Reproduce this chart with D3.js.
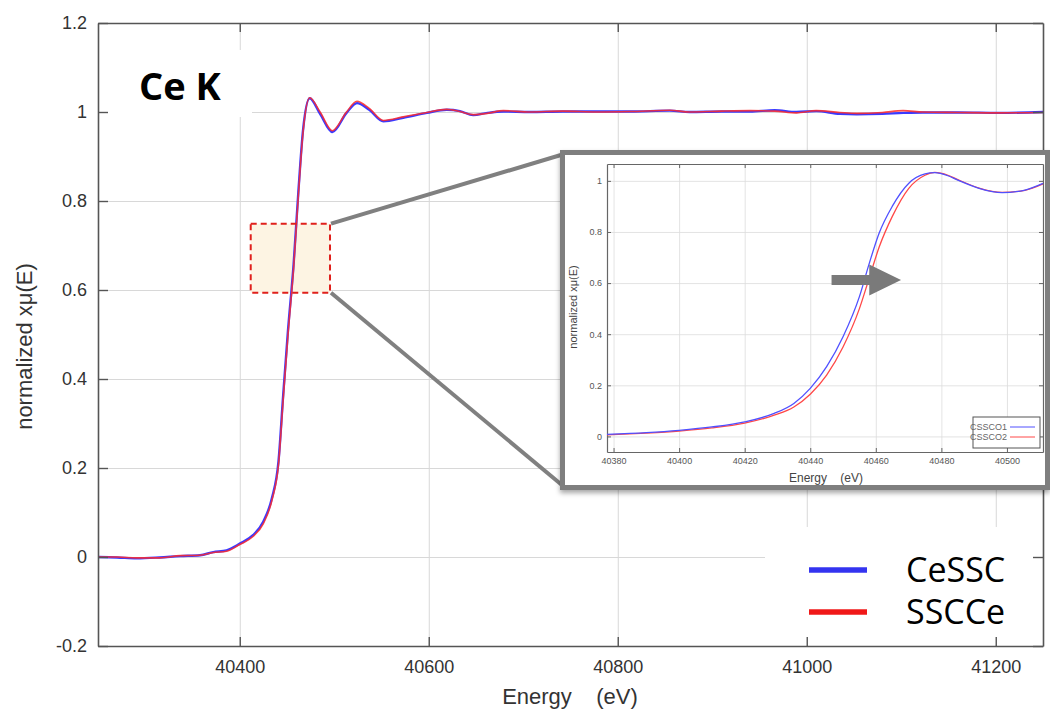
<!DOCTYPE html>
<html>
<head>
<meta charset="utf-8">
<script src="https://cdn.jsdelivr.net/npm/d3@7"></script>
<style>
  html, body { margin: 0; padding: 0; background: #fff; }
  svg { display: block; }
  text { font-family: "Liberation Sans Narrow", "Liberation Sans", Arial, sans-serif; }
</style>
</head>
<body>
<svg id="chart" width="1050" height="718"></svg>
<script>
// ---------------- DATA ----------------
const mainEnergy = [40250, 40270, 40291, 40315, 40337, 40358, 40372, 40386, 40400, 40414,
  40425, 40434, 40441, 40446, 40451, 40457, 40462, 40467, 40474, 40485,
  40498, 40513, 40524, 40537, 40552, 40573, 40598, 40619, 40633, 40647,
  40662, 40679, 40707, 40742, 40778, 40813, 40855, 40876, 40910, 40940,
  40966, 40989, 41010, 41035, 41053, 41080, 41102, 41123, 41160, 41204, 41250];
const cesscValues = [0.000, -0.001, -0.003, -0.001, 0.002, 0.004, 0.011, 0.015, 0.030, 0.049,
  0.080, 0.132, 0.215, 0.365, 0.508, 0.658, 0.820, 0.960, 1.031, 0.996,
  0.955, 0.998, 1.020, 1.005, 0.979, 0.987, 0.998, 1.005, 1.002, 0.993,
  0.998, 1.001, 1.000, 1.001, 1.001, 1.001, 1.003, 1.000, 1.001, 1.001,
  1.004, 1.000, 1.002, 0.996, 0.995, 0.996, 0.998, 0.999, 0.999, 0.998, 1.000];
const ssccesValues = [0.000, 0.000, -0.002, -0.002, 0.003, 0.004, 0.010, 0.013, 0.028, 0.046,
  0.075, 0.127, 0.208, 0.355, 0.498, 0.650, 0.812, 0.955, 1.032, 1.000,
  0.958, 1.000, 1.024, 1.008, 0.981, 0.989, 0.999, 1.006, 1.001, 0.994,
  0.997, 1.003, 1.000, 1.002, 1.000, 1.001, 1.004, 1.000, 1.002, 1.003,
  1.002, 0.998, 1.003, 0.999, 0.997, 0.999, 1.003, 1.000, 0.999, 0.998, 0.999];

const mainXTicks = [40400, 40600, 40800, 41000, 41200];
const mainYTicks = [-0.2, 0, 0.2, 0.4, 0.6, 0.8, 1.0, 1.2];
const legendLabels = ["CeSSC", "SSCCe"];
const legendColors = ["#3434f0", "#f01818"];

// zoomed region (data units of main chart)
const zoomBoxX = [40411.6, 40495.5];
const zoomBoxY = [0.594, 0.749];

// inset data
const insetEnergy = [40378, 40390, 40400, 40410, 40420, 40429, 40435, 40440, 40445, 40450,
  40455, 40458, 40461, 40465, 40470, 40475, 40478, 40482, 40485, 40491.5,
  40498.5, 40505.5, 40511];
const cssco1Values = [0.008, 0.015, 0.024, 0.037, 0.057, 0.090, 0.129, 0.188, 0.273, 0.390,
  0.547, 0.677, 0.795, 0.900, 0.990, 1.027, 1.032, 1.020, 1.003, 0.971,
  0.954, 0.964, 0.990];
const cssco2Values = [0.006, 0.013, 0.021, 0.033, 0.052, 0.083, 0.115, 0.165, 0.240, 0.350,
  0.500, 0.620, 0.740, 0.860, 0.970, 1.022, 1.033, 1.022, 1.005, 0.972,
  0.955, 0.963, 0.988];
const insetXTicks = [40380, 40400, 40420, 40440, 40460, 40480, 40500];
const insetYTicks = [0, 0.2, 0.4, 0.6, 0.8, 1];
const insetLegendLabels = ["CSSCO1", "CSSCO2"];
const insetColors = ["#5050ff", "#ff4848"];
// arrow (inset data units): tail x, head base x, tip x, centre y
const arrowX = [40446.5, 40458, 40467.7];
const arrowY = 0.612;

// ---------------- LAYOUT ----------------
const svg = d3.select("#chart");
const M = { left: 98, right: 1043, top: 23, bottom: 646 };
const x = d3.scaleLinear([40250, 41250], [M.left, M.right]);
const y = d3.scaleLinear([-0.2, 1.2], [M.bottom, M.top]);

const gridColor = "#d8d8d8";
const axisColor = "#555";
const sansUI = "'Open Sans', 'Noto Sans', sans-serif";

// grid
const grid = svg.append("g");
grid.append("g").attr("transform", `translate(0,${M.bottom})`)
  .call(d3.axisBottom(x).tickValues(mainXTicks).tickSize(-(M.bottom - M.top)).tickFormat(""))
  .call(g => g.select(".domain").remove())
  .call(g => g.selectAll("line").attr("stroke", gridColor).attr("stroke-width", 1));
grid.append("g").attr("transform", `translate(${M.left},0)`)
  .call(d3.axisLeft(y).tickValues(mainYTicks.slice(1, -1)).tickSize(-(M.right - M.left)).tickFormat(""))
  .call(g => g.select(".domain").remove())
  .call(g => g.selectAll("line").attr("stroke", gridColor).attr("stroke-width", 1));

// white box behind title
svg.append("rect").attr("x", M.left + 1).attr("y", 50).attr("width", 153).attr("height", 67).attr("fill", "#fff");
// white box behind legend
svg.append("rect").attr("x", 765).attr("y", 527).attr("width", M.right - 765 - 1).attr("height", M.bottom - 527 - 1).attr("fill", "#fff");

// zoom box fill (under curves)
const bx0 = x(zoomBoxX[0]), bx1 = x(zoomBoxX[1]), by0 = y(zoomBoxY[1]), by1 = y(zoomBoxY[0]);
svg.append("rect").attr("x", bx0).attr("y", by0).attr("width", bx1 - bx0).attr("height", by1 - by0)
  .attr("fill", "#fdf4e3");

// curves
const line = d3.line().x(d => x(d[0])).y(d => y(d[1])).curve(d3.curveMonotoneX);
const blueData = mainEnergy.map((e, i) => [e, cesscValues[i]]);
const redData = mainEnergy.map((e, i) => [e, ssccesValues[i]]);
svg.append("path").datum(blueData).attr("d", line).attr("fill", "none")
  .attr("stroke", "#3a3aff").attr("stroke-width", 2.4);
svg.append("path").datum(redData).attr("d", line).attr("fill", "none")
  .attr("stroke", "#ff2a2a").attr("stroke-width", 1.6).attr("stroke-opacity", 0.85);

// axes (ticks inward on all sides)
function styleAxis(g) {
  g.select(".domain").attr("stroke", axisColor).attr("stroke-width", 1.6);
  g.selectAll(".tick line").attr("stroke", axisColor).attr("stroke-width", 1.4);
  g.selectAll("text").attr("fill", "#333").attr("font-size", 18);
}
const yFmt = d => String(+d.toFixed(1));
svg.append("g").attr("transform", `translate(0,${M.bottom})`)
  .call(d3.axisBottom(x).tickValues(mainXTicks).tickSizeInner(-9).tickSizeOuter(0).tickPadding(14).tickFormat(d3.format("d")))
  .call(styleAxis);
svg.append("g").attr("transform", `translate(${M.left},0)`)
  .call(d3.axisLeft(y).tickValues(mainYTicks).tickSizeInner(-10).tickSizeOuter(0).tickPadding(11).tickFormat(yFmt))
  .call(styleAxis);
svg.append("g").attr("transform", `translate(0,${M.top})`)
  .call(d3.axisTop(x).tickValues(mainXTicks).tickSizeInner(-9).tickSizeOuter(0).tickFormat(""))
  .call(styleAxis);
svg.append("g").attr("transform", `translate(${M.right},0)`)
  .call(d3.axisRight(y).tickValues(mainYTicks).tickSizeInner(-10).tickSizeOuter(0).tickFormat(""))
  .call(styleAxis);

// axis titles
svg.append("text").attr("x", 570).attr("y", 704).attr("text-anchor", "middle")
  .attr("font-size", 22).attr("fill", "#333").style("white-space", "pre").text("Energy    (eV)");
svg.append("text").attr("transform", `translate(32,${(M.top + M.bottom) / 2 + 12}) rotate(-90)`)
  .attr("text-anchor", "middle").attr("font-size", 22).attr("fill", "#333").text("normalized xμ(E)");

// title
svg.append("text").attr("x", 139).attr("y", 100).style("font-family", sansUI)
  .attr("font-weight", "bold").attr("font-size", 38).attr("fill", "#000").text("Ce K");

// legend
legendLabels.forEach((lab, i) => {
  const ly = 570 + i * 42;
  svg.append("line").attr("x1", 809).attr("x2", 867).attr("y1", ly).attr("y2", ly)
    .attr("stroke", legendColors[i]).attr("stroke-width", 5.5);
  svg.append("text").attr("x", 906).attr("y", ly + 12).style("font-family", sansUI)
    .attr("font-size", 34).attr("fill", "#000").text(lab);
});

// zoom box outline
svg.append("rect").attr("x", bx0).attr("y", by0).attr("width", bx1 - bx0).attr("height", by1 - by0)
  .attr("fill", "none").attr("stroke", "#e0201c").attr("stroke-width", 2).attr("stroke-dasharray", "6,4");

// inset frame
const IF = { x: 562.5, y: 152.5, w: 485, h: 335 };
// connectors
svg.append("line").attr("x1", bx1 + 1).attr("y1", by0).attr("x2", IF.x).attr("y2", IF.y + 2)
  .attr("stroke", "#808080").attr("stroke-width", 4);
svg.append("line").attr("x1", bx1 + 1).attr("y1", by1).attr("x2", IF.x).attr("y2", IF.y + IF.h - 2)
  .attr("stroke", "#808080").attr("stroke-width", 4);

const defs = svg.append("defs");
const f = defs.append("filter").attr("id", "shadow").attr("x", "-5%").attr("y", "-5%").attr("width", "110%").attr("height", "115%");
f.append("feDropShadow").attr("dx", 0).attr("dy", 3).attr("stdDeviation", 2.5).attr("flood-color", "#000").attr("flood-opacity", 0.35);

svg.append("rect").attr("x", IF.x).attr("y", IF.y).attr("width", IF.w).attr("height", IF.h)
  .attr("fill", "#fff").attr("stroke", "#7f7f7f").attr("stroke-width", 5).attr("filter", "url(#shadow)");

const inset = svg.append("g");
const IM = { left: 607, right: 1043, top: 164, bottom: 452 };
const ix = d3.scaleLinear([40378, 40511], [IM.left, IM.right]);
const iy = d3.scaleLinear([-0.061, 1.066], [IM.bottom, IM.top]);

inset.append("g").attr("transform", `translate(0,${IM.bottom})`)
  .call(d3.axisBottom(ix).tickValues(insetXTicks).tickSize(-(IM.bottom - IM.top)).tickFormat(""))
  .call(g => g.select(".domain").remove())
  .call(g => g.selectAll("line").attr("stroke", "#dcdcdc").attr("stroke-width", 0.8));
inset.append("g").attr("transform", `translate(${IM.left},0)`)
  .call(d3.axisLeft(iy).tickValues(insetYTicks).tickSize(-(IM.right - IM.left)).tickFormat(""))
  .call(g => g.select(".domain").remove())
  .call(g => g.selectAll("line").attr("stroke", "#dcdcdc").attr("stroke-width", 0.8));

function styleInset(g) {
  g.select(".domain").attr("stroke", "#666").attr("stroke-width", 1.2);
  g.selectAll(".tick line").attr("stroke", "#666").attr("stroke-width", 1);
  g.selectAll("text").attr("fill", "#555").attr("font-size", 9);
}
inset.append("g").attr("transform", `translate(0,${IM.bottom})`)
  .call(d3.axisBottom(ix).tickValues(insetXTicks).tickSizeInner(-4).tickSizeOuter(0).tickPadding(6).tickFormat(d3.format("d")))
  .call(styleInset);
inset.append("g").attr("transform", `translate(${IM.left},0)`)
  .call(d3.axisLeft(iy).tickValues(insetYTicks).tickSizeInner(-4).tickSizeOuter(0).tickPadding(5).tickFormat(d => String(+d.toFixed(1))))
  .call(styleInset);
inset.append("g").attr("transform", `translate(0,${IM.top})`)
  .call(d3.axisTop(ix).tickValues(insetXTicks).tickSizeInner(-4).tickSizeOuter(0).tickFormat(""))
  .call(styleInset);
inset.append("g").attr("transform", `translate(${IM.right},0)`)
  .call(d3.axisRight(iy).tickValues(insetYTicks).tickSizeInner(-4).tickSizeOuter(0).tickFormat(""))
  .call(styleInset);

const iline = d3.line().x(d => ix(d[0])).y(d => iy(d[1])).curve(d3.curveMonotoneX);
inset.append("path").datum(insetEnergy.map((e, i) => [e, cssco2Values[i]])).attr("d", iline)
  .attr("fill", "none").attr("stroke", insetColors[1]).attr("stroke-width", 1.3);
inset.append("path").datum(insetEnergy.map((e, i) => [e, cssco1Values[i]])).attr("d", iline)
  .attr("fill", "none").attr("stroke", insetColors[0]).attr("stroke-width", 1.3);

// inset axis titles
inset.append("text").attr("x", 826).attr("y", 482).attr("text-anchor", "middle")
  .attr("font-size", 12).attr("fill", "#444").style("white-space", "pre").text("Energy    (eV)");
inset.append("text").attr("transform", `translate(577,307) rotate(-90)`).attr("text-anchor", "middle")
  .attr("font-size", 11).attr("fill", "#444").text("normalized xμ(E)");

// inset legend
inset.append("rect").attr("x", 973).attr("y", 417).attr("width", 67).attr("height", 31)
  .attr("fill", "#fff").attr("stroke", "#555").attr("stroke-width", 1);
insetLegendLabels.forEach((lab, i) => {
  const ly = 427 + i * 10;
  inset.append("text").attr("x", 1007).attr("y", ly + 3).attr("text-anchor", "end")
    .attr("font-size", 9).attr("fill", "#666").text(lab);
  inset.append("line").attr("x1", 1010).attr("x2", 1035).attr("y1", ly).attr("y2", ly)
    .attr("stroke", insetColors[i]).attr("stroke-width", 1);
});

// arrow
const ax0 = ix(arrowX[0]), ax1 = ix(arrowX[1]), ax2 = ix(arrowX[2]), ay = iy(arrowY);
inset.append("polygon")
  .attr("points", [[ax0, ay - 5], [ax1, ay - 5], [ax1, ay - 15.5], [ax2, ay], [ax1, ay + 15.5], [ax1, ay + 5], [ax0, ay + 5]].map(p => p.join(",")).join(" "))
  .attr("fill", "#7a7a7a");
</script>
</body>
</html>
